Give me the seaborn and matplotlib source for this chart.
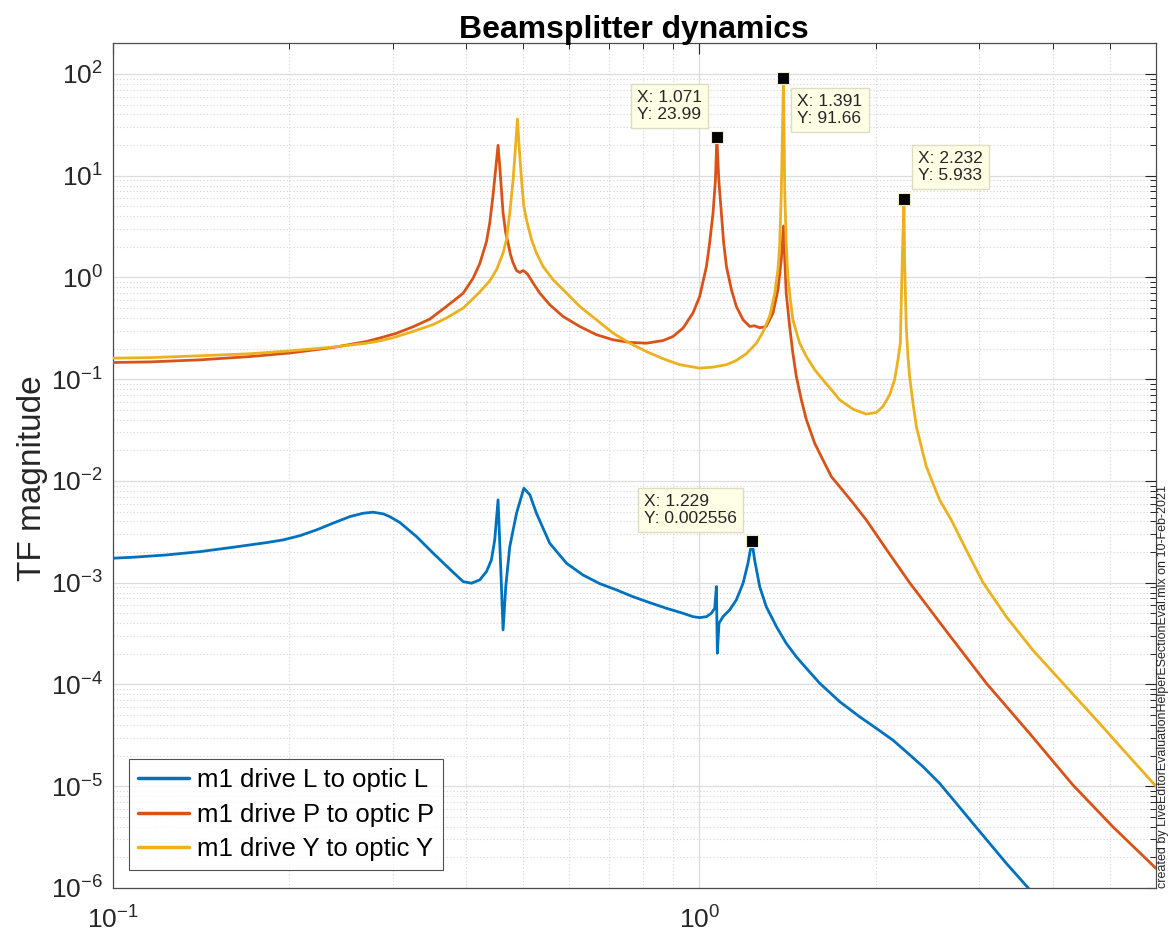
import numpy as np
import pandas as pd
import matplotlib
matplotlib.use("Agg")
import matplotlib.pyplot as plt
import matplotlib.ticker as mticker
import seaborn as sns

# ---------------- data ----------------
freq_L = [0.100, 0.1084, 0.1236, 0.1408, 0.1605, 0.1830, 0.1953, 0.2085, 0.2226, 0.2375,
          0.2537, 0.2673, 0.2779, 0.2891, 0.2966, 0.3088, 0.3295, 0.3518, 0.3755, 0.3957,
          0.4089, 0.4224, 0.4337, 0.4421, 0.4479, 0.4538, 0.4587, 0.4628, 0.4677, 0.4751,
          0.4879, 0.5021, 0.5142, 0.5275, 0.5559, 0.5936, 0.6334, 0.6762, 0.7223, 0.7705,
          0.8229, 0.8786, 0.9378, 0.975, 1.001, 1.028, 1.048, 1.062, 1.069, 1.073,
          1.080, 1.097, 1.126, 1.156, 1.187, 1.210, 1.229, 1.242, 1.267, 1.300,
          1.353, 1.406, 1.463, 1.522, 1.603, 1.734, 1.875, 2.002, 2.137, 2.252,
          2.404, 2.567, 2.741, 2.925, 3.123, 3.334, 3.629, 3.70]
mag_L = [1.742e-3, 1.78e-3, 1.876e-3, 2.02e-3, 2.233e-3, 2.48e-3, 2.636e-3, 2.90e-3, 3.306e-3, 3.85e-3,
         4.467e-3, 4.82e-3, 4.932e-3, 4.75e-3, 4.467e-3, 3.9e-3, 2.84e-3, 1.95e-3, 1.36e-3, 1.025e-3,
         9.89e-4, 1.067e-3, 1.29e-3, 1.675e-3, 2.636e-3, 6.52e-3, 1.34e-3, 3.44e-4, 9.16e-4, 2.26e-3,
         4.82e-3, 8.49e-3, 7.30e-3, 4.82e-3, 2.44e-3, 1.555e-3, 1.19e-3, 9.8e-4, 8.50e-4, 7.29e-4,
         6.37e-4, 5.61e-4, 5.01e-4, 4.64e-4, 4.54e-4, 4.64e-4, 5.01e-4, 5.61e-4, 9.16e-4, 2.03e-4,
         4.0e-4, 4.64e-4, 5.40e-4, 6.78e-4, 9.89e-4, 1.555e-3, 2.556e-3, 1.675e-3, 9.16e-4, 5.82e-4,
         3.70e-4, 2.54e-4, 1.87e-4, 1.44e-4, 1.03e-4, 6.78e-5, 4.82e-5, 3.71e-5, 2.84e-5, 2.18e-5,
         1.56e-5, 1.067e-5, 6.79e-6, 4.32e-6, 2.75e-6, 1.75e-6, 1.01e-6, 8.7e-7]

freq_P = [0.100, 0.1157, 0.1408, 0.1714, 0.2004, 0.2375, 0.2709, 0.2853, 0.3046, 0.3252,
          0.3472, 0.3707, 0.3957, 0.4113, 0.4224, 0.4337, 0.4394, 0.4450, 0.4510, 0.4538,
          0.4568, 0.4598, 0.4628, 0.4677, 0.4720, 0.4765, 0.4814, 0.4879, 0.4943, 0.5006,
          0.5060, 0.5105, 0.5207, 0.5344, 0.5559, 0.5855, 0.6253, 0.6674, 0.7125, 0.7607,
          0.8124, 0.867, 0.9016, 0.9378, 0.975, 1.001, 1.028, 1.041, 1.055, 1.065,
          1.071, 1.079, 1.090, 1.100, 1.112, 1.134, 1.156, 1.187, 1.218, 1.242,
          1.267, 1.300, 1.335, 1.361, 1.379, 1.391, 1.398, 1.406, 1.425, 1.443,
          1.463, 1.492, 1.522, 1.572, 1.624, 1.679, 1.734, 1.827, 1.925, 2.096,
          2.282, 2.652, 3.083, 3.653, 4.33, 5.065, 6.0]
mag_P = [0.146, 0.148, 0.155, 0.167, 0.181, 0.205, 0.235, 0.254, 0.283, 0.328,
         0.39, 0.52, 0.70, 0.98, 1.37, 2.26, 3.5, 6.5, 14.0, 19.9,
         12.3, 7.28, 4.30, 2.73, 2.18, 1.67, 1.39, 1.17, 1.12, 1.17,
         1.12, 1.06, 0.881, 0.703, 0.539, 0.414, 0.330, 0.274, 0.244, 0.230,
         0.226, 0.240, 0.263, 0.318, 0.447, 0.65, 1.28, 2.18, 4.30, 9.14,
         23.99, 9.14, 4.30, 2.18, 1.28, 0.757, 0.519, 0.384, 0.330, 0.335,
         0.320, 0.330, 0.447, 0.757, 1.49, 3.2, 1.49, 0.703, 0.330, 0.181,
         0.106, 0.0627, 0.0399, 0.0235, 0.0161, 0.0110, 8.8e-3, 6.09e-3, 4.14e-3, 2.02e-3,
         1.0e-3, 3.19e-4, 1.03e-4, 3.31e-5, 1.03e-5, 4.0e-6, 1.56e-6]

freq_Y = [0.100, 0.1157, 0.1408, 0.1714, 0.2004, 0.2375, 0.2709, 0.2853, 0.3006, 0.3252,
          0.3518, 0.3707, 0.3957, 0.4224, 0.4394, 0.4510, 0.4628, 0.4690, 0.4751, 0.4814,
          0.4860, 0.4897, 0.4929, 0.4975, 0.5021, 0.5073, 0.5175, 0.5275, 0.5415, 0.5632,
          0.5936, 0.6253, 0.6674, 0.7125, 0.7607, 0.8124, 0.867, 0.9256, 1.001, 1.055,
          1.112, 1.156, 1.202, 1.251, 1.283, 1.318, 1.344, 1.361, 1.370, 1.379,
          1.391, 1.398, 1.406, 1.415, 1.429, 1.443, 1.482, 1.522, 1.572, 1.624,
          1.679, 1.734, 1.827, 1.925, 2.002, 2.055, 2.110, 2.151, 2.180, 2.200,
          2.217, 2.232, 2.237, 2.252, 2.267, 2.282, 2.312, 2.343, 2.389, 2.436,
          2.500, 2.567, 2.687, 2.850, 3.042, 3.334, 3.700, 4.164, 4.808, 5.339, 6.0]
mag_Y = [0.161, 0.163, 0.170, 0.178, 0.190, 0.207, 0.226, 0.238, 0.256, 0.295,
         0.345, 0.40, 0.50, 0.72, 0.93, 1.19, 1.74, 2.35, 4.30, 9.14,
         19.4, 36.1, 19.4, 9.14, 4.99, 3.69, 2.35, 1.74, 1.28, 0.949,
         0.703, 0.519, 0.384, 0.284, 0.226, 0.187, 0.159, 0.139, 0.1285, 0.1315,
         0.139, 0.153, 0.178, 0.226, 0.29, 0.42, 0.70, 1.2, 2.0, 6.76,
         91.66, 6.76, 2.18, 1.02, 0.604, 0.384, 0.226, 0.167, 0.124, 0.0986,
         0.0787, 0.0627, 0.0508, 0.0454, 0.0471, 0.054, 0.0703, 0.0986, 0.155, 0.226,
         1.49, 5.933, 1.49, 0.330, 0.167, 0.106, 0.0582, 0.0343, 0.0218, 0.0139,
         9.51e-3, 6.52e-3, 4.14e-3, 2.10e-3, 1.01e-3, 4.64e-4, 2.18e-4, 1.03e-4, 4.15e-5, 2.11e-5, 1.0e-5]

series_labels = ["m1 drive L to optic L", "m1 drive P to optic P", "m1 drive Y to optic Y"]
series_colors = ["#0072BD", "#D95319", "#EDB120"]

tip_x = [1.071, 1.391, 2.232, 1.229]
tip_y = [23.99, 91.66, 5.933, 0.002556]
tip_side = ["ul", "lr", "ur", "ul"]

title_text = "Beamsplitter dynamics"
ylabel_text = "TF magnitude"
side_note = "created by LiveEditorEvaluationHelperESectionEval.mlx on 10-Feb-2021"

# ---------------- style ----------------
sns.set_style("white")
plt.rcParams["font.family"] = ["Liberation Sans", "DejaVu Sans"]
plt.rcParams["mathtext.fontset"] = "custom"
plt.rcParams["mathtext.rm"] = "Liberation Sans"
plt.rcParams["mathtext.it"] = "Liberation Sans:italic"
plt.rcParams["mathtext.bf"] = "Liberation Sans:bold"
plt.rcParams["axes.unicode_minus"] = False

DARK = "#262626"

fig = plt.figure(figsize=(11.7, 9.36), dpi=100)
ax = fig.add_axes([0.0963, 0.0513, 0.8917, 0.9024])

frames = []
for f, m, lab in zip([freq_L, freq_P, freq_Y], [mag_L, mag_P, mag_Y], series_labels):
    frames.append(pd.DataFrame({"freq": f, "mag": m, "series": lab}))
df = pd.concat(frames, ignore_index=True)

for lab, col in zip(series_labels, series_colors):
    sub = df[df["series"] == lab]
    sns.lineplot(data=sub, x="freq", y="mag", ax=ax, color=col, lw=2.0,
                 label=lab, estimator=None, sort=False, zorder=3)

ax.set_xscale("log")
ax.set_yscale("log")
ax.set_xlim(0.1, 6.0)
ax.set_ylim(1e-6, 200)

ax.xaxis.set_major_locator(mticker.LogLocator(base=10, numticks=20))
ax.yaxis.set_major_locator(mticker.LogLocator(base=10, numticks=20))
ax.xaxis.set_minor_locator(mticker.LogLocator(base=10, subs=np.arange(2, 10), numticks=50))
ax.yaxis.set_minor_locator(mticker.LogLocator(base=10, subs=np.arange(2, 10), numticks=50))
ax.xaxis.set_minor_formatter(mticker.NullFormatter())
ax.yaxis.set_minor_formatter(mticker.NullFormatter())

ax.grid(True, which="major", color="#dcdcdc", lw=0.9, ls="-", zorder=0)
ax.grid(True, which="minor", color="#d4d4d4", lw=0.8, ls=(0, (1, 2)), zorder=0)
ax.set_axisbelow(True)

ax.tick_params(which="both", direction="in", top=True, right=True, colors=DARK,
               labelcolor=DARK)
ax.tick_params(which="major", length=8, width=0.8, labelsize=19)
ax.tick_params(which="minor", length=4.5, width=0.7)
ax.tick_params(axis="x", which="major", pad=13)
ax.tick_params(axis="y", which="major", pad=7)
for sp in ax.spines.values():
    sp.set_color("#4d4d4d")
    sp.set_linewidth(0.9)

ax.set_xlabel("")
ax.set_ylabel(ylabel_text, fontsize=24, color=DARK, va="center")
ax.yaxis.set_label_coords(-0.0764, 0.485)
ax.set_title(title_text, fontsize=23, fontweight="bold", color="black", pad=4)

leg = ax.legend(loc="lower left", bbox_to_anchor=(0.0156, 0.0213), borderaxespad=0,
                fontsize=18.5, frameon=True, fancybox=False, edgecolor=DARK,
                handlelength=2.0, handletextpad=0.3, borderpad=0.35, labelspacing=0.4)
leg.get_frame().set_linewidth(0.8)
for t in leg.get_texts():
    t.set_color("black")
for h in leg.get_lines():
    h.set_linewidth(2.5)

# data tips
for x, y, side in zip(tip_x, tip_y, tip_side):
    ax.plot([x], [y], marker="s", ms=8.5, mfc="black", mec="#EDEDC8", mew=0.8,
            ls="none", zorder=6, clip_on=False)
    if side == "ul":
        off, ha, va = (-15, 15), "right", "bottom"
    elif side == "lr":
        off, ha, va = (14, -16), "left", "top"
    else:
        off, ha, va = (14, 16), "left", "bottom"
    ax.annotate(f"X: {x:.4g}\nY: {y:.4g}", xy=(x, y), xytext=off,
                textcoords="offset pixels", ha=ha, va=va, multialignment="left",
                fontsize=12.5, color=DARK, zorder=7, linespacing=1.15,
                bbox=dict(boxstyle="square,pad=0.35", fc="#FFFFE6", ec="#DDDDC4", lw=1))

fig.text(1163 / 1170, 0.0513, side_note, rotation=90, ha="center", va="bottom",
         fontsize=9, color=DARK)

fig.savefig("out.png", dpi=100)
